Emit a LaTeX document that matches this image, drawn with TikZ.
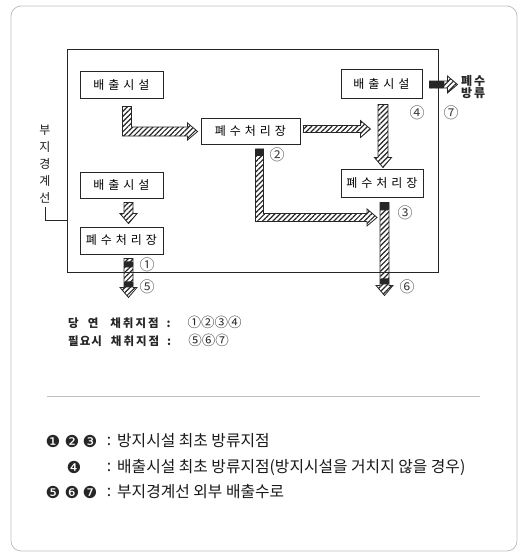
\documentclass[tikz,border=0pt]{standalone}
\usepackage{fontspec}
\setmainfont{Noto Sans CJK KR}
\newfontfamily\djv{DejaVu Sans}
\usetikzlibrary{calc,patterns.meta}
\newcommand\gap{\hspace{0.33em}}
\newcommand\ahw{8.5}
\newcommand\ahl{10}
\newcommand\arrV[3]{%
 \draw[fat] ($(#1)+(-#3,0)$) -- ($(#2)+(-#3,-\ahl)$) -- ($(#2)+(-\ahw,-\ahl)$) -- (#2) -- ($(#2)+(\ahw,-\ahl)$) -- ($(#2)+(#3,-\ahl)$) -- ($(#1)+(#3,0)$) -- cycle;}
\newcommand\arrH[3]{%
 \draw[fat] ($(#1)+(0,-#3)$) -- ($(#2)+(-\ahl,-#3)$) -- ($(#2)+(-\ahl,-\ahw)$) -- (#2) -- ($(#2)+(-\ahl,\ahw)$) -- ($(#2)+(-\ahl,#3)$) -- ($(#1)+(0,#3)$) -- cycle;}
\newcommand\arrL[4]{%
 \draw[fat] ($(#1)+(-#4,0)$) -- ($(#2)+(-#4,#4)$) -- ($(#3)+(-\ahl,#4)$) -- ($(#3)+(-\ahl,\ahw)$) -- (#3) -- ($(#3)+(-\ahl,-\ahw)$) -- ($(#3)+(-\ahl,-#4)$) -- ($(#2)+(#4,-#4)$) -- ($(#1)+(#4,0)$) -- cycle;}
\begin{document}
\begin{tikzpicture}[x=1pt,y=-1pt,
  box/.style={draw=black!85,line width=0.9pt,inner sep=0pt,text=black,font=\fontsize{12}{13}\selectfont},
  fat/.style={draw=black!85,line width=0.8pt,line join=miter,pattern={Lines[angle=45,distance=3.6pt,line width=1.2pt]},pattern color=black!85},
  darkmark/.style={fill=black!85,rounded corners=1pt},
  num/.style={inner sep=0pt,text=black!75,font=\fontsize{15}{15}\selectfont},
  leg/.style={inner sep=0pt,text=black!90,font=\fontsize{15.8}{16}\selectfont},
  dot/.style={inner sep=0pt,text=black!85,font=\djv\fontsize{16.5}{16.5}\selectfont},
  ]
\useasboundingbox (0,0) rectangle (522,555);
\draw[black!25,line width=0.8pt,rounded corners=10pt] (11,6) rectangle (517,551);

% site boundary
\node[draw=black!85,line width=0.9pt,minimum width=371pt,minimum height=223pt,inner sep=0pt] (site) at (252.5,160.5) {};

% boxes
\node[box,minimum width=83pt,minimum height=27pt] (b1) at (121.5,84.5) {배\gap 출\gap 시\gap 설};
\node[box,minimum width=99pt,minimum height=26pt] (t1) at (250.5,131.5) {폐\gap 수\gap 처\gap 리\gap 장};
\node[box,minimum width=81pt,minimum height=29pt] (b2) at (381.5,83.5) {배\gap 출\gap 시\gap 설};
\node[box,minimum width=82pt,minimum height=28pt] (t2) at (382,183) {폐\gap 수\gap 처\gap 리\gap 장};
\node[box,minimum width=83pt,minimum height=26pt] (b3) at (121.5,185) {배\gap 출\gap 시\gap 설};
\node[box,minimum width=83pt,minimum height=27pt] (t3) at (121.5,240.5) {폐\gap 수\gap 처\gap 리\gap 장};

% arrow coordinates
\coordinate (a1s) at ($(b1.south)+(5.5,8)$);
\coordinate (a1t) at ($(t1.west)+(-3,0)$);
\coordinate (a1c) at (a1s |- a1t);
\coordinate (a2s) at ($(t1.east)+(3,-2.5)$);
\coordinate (a2t) at ($(t1.east)+(70,-2.5)$);
\coordinate (a3s) at ($(b2.south)+(1.5,6)$);
\coordinate (a3t) at ($(t2.north)+(1,-1)$);
\coordinate (a4s) at ($(t1.south)+(9,4)$);
\coordinate (a4c) at ($(a4s)+(0,68.5)$);
\coordinate (a4t) at ($(a4c)+(117.5,0)$);
\coordinate (a5s) at ($(t2.south)+(2.5,5)$);
\coordinate (a5t) at ($(a5s)+(0,93)$);
\coordinate (a6s) at ($(b3.south)+(7,4)$);
\coordinate (a6t) at ($(t3.north)+(7,-3)$);
\coordinate (a7s) at ($(t3.south)+(7,4)$);
\coordinate (a7t) at ($(a7s)+(0,39)$);
\coordinate (a8s) at ($(b2.east)+(7,1)$);
\coordinate (a8t) at ($(a8s)+(28,0)$);

\arrL{a1s}{a1c}{a1t}{4.5}
\arrH{a2s}{a2t}{3.5}
\arrV{a3s}{a3t}{5}
\arrL{a4s}{a4c}{a4t}{4}
\arrV{a5s}{a5t}{4.5}
\arrV{a6s}{a6t}{4.5}
\arrV{a7s}{a7t}{4.5}
\arrH{a8s}{a8t}{3.5}

% dark sampling marks
\fill[darkmark] ($(a4s)+(-4,0)$) rectangle ($(a4s)+(4,7)$);
\fill[darkmark] ($(a5s)+(-4.5,0)$) rectangle ($(a5s)+(4.5,8)$);
\fill[darkmark] ($(a5t)+(-4.5,-17)$) rectangle ($(a5t)+(4.5,-11)$);
\fill[darkmark] ($(a7s)+(-4.5,3)$) rectangle ($(a7s)+(4.5,9)$);
\fill[darkmark] ($(a7t)+(-4.5,-16)$) rectangle ($(a7t)+(4.5,-10)$);
\fill[darkmark] ($(a8s)+(0,-3.5)$) rectangle ($(a8s)+(15,3.5)$);

% circled numbers
\node[num] (n1) at (147,265) {①};
\node[num] (n5) at (147,287) {⑤};
\node[num] (n2) at (277,155) {②};
\node[num] (n3) at (405,213) {③};
\node[num] (n6) at (407,287) {⑥};
\node[num] (n4) at (417,113) {④};
\node[num] (n7) at (451,113) {⑦};

% outflow label
\node[anchor=west,inner sep=0pt,align=left,text=black!85,font=\fontsize{12}{12.5}\selectfont\bfseries] (out) at (461,87) {폐\hspace{2pt}수\\방\hspace{2pt}류};

% boundary label
\node[inner sep=0pt,align=center,text=black!90,font=\fontsize{12}{17}\selectfont] (vt) at (45,164) {부\\지\\경\\계\\선};
\coordinate (vtl) at (45,207);
\coordinate (vte) at (67,220);
\draw[black!85,line width=0.8pt] (vtl) |- (vte);

% sampling text
\node[anchor=west,inner sep=0pt,text=black!85,font=\fontsize{11.5}{12}\selectfont\bfseries] (s1) at (68,322) {당\hspace{9pt}연\hspace{12pt}채\hspace{2pt}취\hspace{2pt}지\hspace{2pt}점\hspace{8pt}:\hspace{17pt}{\mdseries\fontsize{13.5}{12}\selectfont ①②③④}};
\node[anchor=west,inner sep=0pt,text=black!85,font=\fontsize{11.5}{12}\selectfont\bfseries] (s2) at (68,340) {필\hspace{1pt}요\hspace{1pt}시\hspace{9pt}채\hspace{2pt}취\hspace{2pt}지\hspace{2pt}점\hspace{8pt}:\hspace{17pt}{\mdseries\fontsize{13.5}{12}\selectfont ⑤⑥⑦}};

% separator
\draw[black!25,line width=1pt] (47,396) -- (480,396);

% legend
\node[dot] (d1) at (53,441) {❶};
\node[dot] (d2) at (72,441) {❷};
\node[dot] (d3) at (90,441) {❸};
\node[leg] (c1) at (109,441) {:};
\node[leg,anchor=west] (l1) at (117,441) {방지시설 최초 방류지점};
\node[dot] (d4) at (74,467) {❹};
\node[leg] (c2) at (109,467) {:};
\node[leg,anchor=west] (l2) at (117,467) {배출시설 최초 방류지점(방지시설을 거치지 않을 경우)};
\node[dot] (d5) at (53,492) {❺};
\node[dot] (d6) at (72,492) {❻};
\node[dot] (d7) at (90,492) {❼};
\node[leg] (c3) at (109,492) {:};
\node[leg,anchor=west] (l3) at (117,492) {부지경계선 외부 배출수로};
\end{tikzpicture}
\end{document}
